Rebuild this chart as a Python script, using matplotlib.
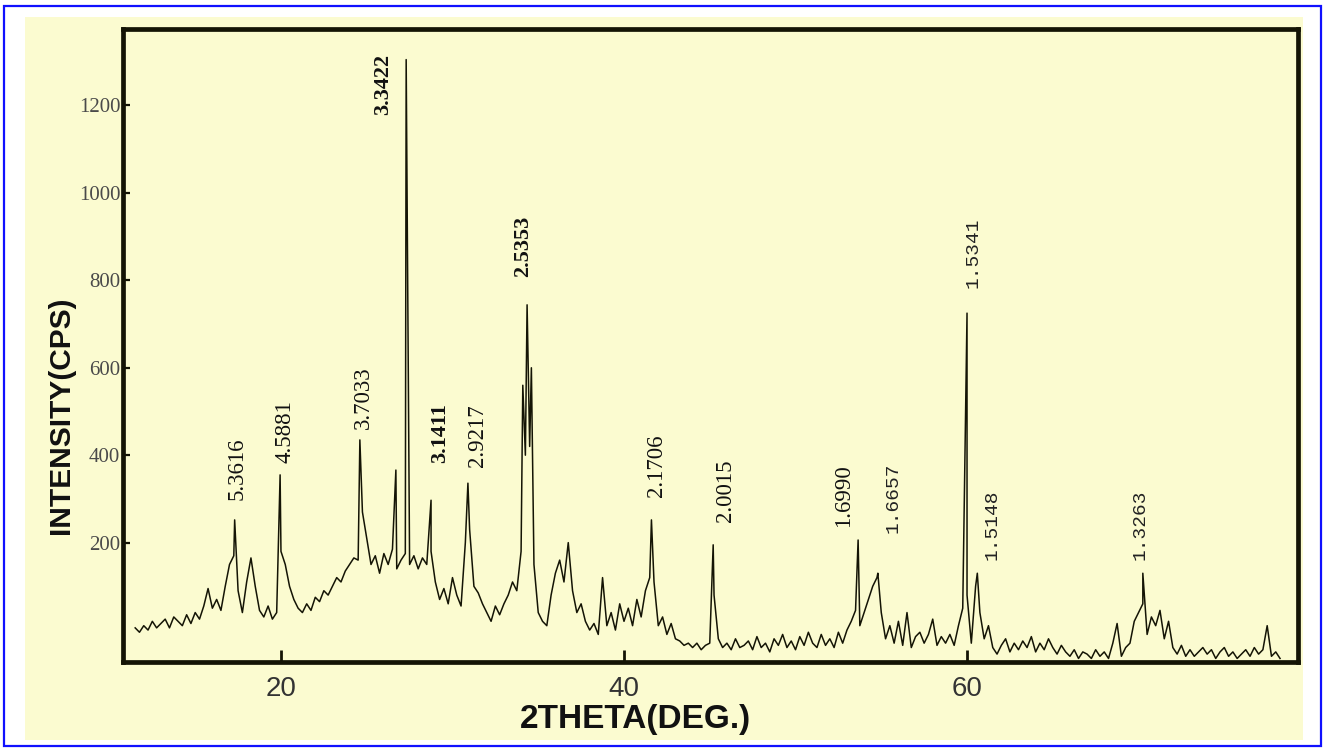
import numpy as np
import matplotlib
matplotlib.use("Agg")
import matplotlib.pyplot as plt
from matplotlib.patches import Rectangle

# background trace, 2theta grid 11.5 .. 78.25 step 0.25, counts read row by row (one row per degree)
bg_rows = [
    [5, -5],                 # 11
    [10, 0, 20, 5],          # 12
    [15, 25, 5, 30],         # 13
    [20, 10, 35, 15],        # 14
    [40, 25, 55, 95],        # 15
    [50, 70, 45, 100],       # 16
    [150, 170, 90, 40],      # 17
    [110, 165, 100, 45],     # 18
    [30, 55, 25, 40],        # 19
    [180, 150, 100, 70],     # 20
    [50, 40, 60, 45],        # 21
    [75, 65, 90, 80],        # 22
    [100, 120, 110, 135],    # 23
    [150, 165, 160, 270],    # 24
    [210, 150, 170, 130],    # 25
    [175, 150, 185, 140],    # 26
    [160, 175, 150, 170],    # 27
    [140, 165, 150, 180],    # 28
    [110, 70, 95, 60],       # 29
    [120, 80, 55, 200],      # 30
    [230, 100, 85, 60],      # 31
    [40, 20, 55, 35],        # 32
    [60, 80, 110, 90],       # 33
    [180, 400, 420, 150],    # 34
    [40, 20, 10, 80],        # 35
    [130, 160, 110, 200],    # 36
    [90, 40, 60, 20],        # 37
    [0, 15, -10, 120],       # 38
    [10, 40, 0, 60],         # 39
    [20, 50, 10, 70],        # 40
    [30, 90, 120, 110],      # 41
    [10, 30, -10, 15],       # 42
    [-20, -25, -35, -30],    # 43
    [-40, -30, -45, -35],    # 44
    [-30, 80, -20, -40],     # 45
    [-30, -45, -20, -40],    # 46
    [-35, -25, -45, -15],    # 47
    [-40, -30, -50, -20],    # 48
    [-35, -10, -40, -25],    # 49
    [-45, -15, -35, -5],     # 50
    [-30, -40, -10, -35],    # 51
    [-20, -40, -5, -30],     # 52
    [0, 20, 45, 10],         # 53
    [40, 70, 100, 120],      # 54
    [40, -20, 10, -30],      # 55
    [20, -35, 40, -40],      # 56
    [-15, -5, -30, -10],     # 57
    [25, -35, -15, -30],     # 58
    [-10, -35, 10, 50],      # 59
    [80, -30, 100, 40],      # 60
    [-20, 10, -40, -55],     # 61
    [-35, -20, -50, -30],    # 62
    [-45, -25, -40, -15],    # 63
    [-50, -30, -45, -20],    # 64
    [-40, -55, -35, -50],    # 65
    [-60, -45, -65, -50],    # 66
    [-55, -65, -45, -60],    # 67
    [-50, -65, -30, 15],     # 68
    [-60, -40, -30, 20],     # 69
    [40, 60, -10, 30],       # 70
    [10, 45, -20, 20],       # 71
    [-40, -55, -35, -60],    # 72
    [-45, -60, -50, -40],    # 73
    [-55, -45, -65, -50],    # 74
    [-40, -60, -50, -65],    # 75
    [-55, -45, -60, -40],    # 76
    [-55, -45, 10, -60],     # 77
    [-50, -65],              # 78
]
bg_cps = np.array([v for row in bg_rows for v in row], dtype=float)
bg_2theta = 11.5 + 0.25 * np.arange(len(bg_cps))

# sharp reflections
peak_2theta = [17.3, 19.95, 24.6, 26.7, 27.3, 28.75, 30.9, 34.1, 34.35, 34.6,
               41.6, 45.2, 53.65, 54.8, 60.0, 60.6, 70.25]
peak_cps = [252, 355, 435, 366, 1305, 297, 336, 560, 744, 600,
            252, 195, 206, 130, 725, 130, 130]

# d-spacing labels
d_labels = ['5.3616', '4.5881', '3.7033', '3.3422', '3.1411', '2.9217', '2.5353',
            '2.1706', '2.0015', '1.6990', '1.6657', '1.5341', '1.5148', '1.3263']
label_2theta = [17.43, 20.23, 24.78, 25.95, 29.27, 31.43, 34.11,
                41.92, 45.89, 52.8, 55.69, 60.35, 61.46, 70.09]
label_cps = [297, 382, 460, 1178, 382, 373, 808, 304, 247, 236, 222, 783, 160, 160]
label_kind = ['serif', 'serif', 'serif', 'bold', 'bold', 'serif', 'bold',
              'serif', 'serif', 'serif', 'mono', 'mono', 'mono', 'mono']

yticks = [200, 400, 600, 800, 1000, 1200]
xticks = [20, 40, 60]

paper = '#fbfbd0'
ink = '#141405'

x_all = np.concatenate([bg_2theta, peak_2theta])
y_all = np.concatenate([bg_cps, peak_cps])
order = np.argsort(x_all)

fig = plt.figure(figsize=(13.24, 7.49), dpi=100, facecolor='white')
fig.patches.append(Rectangle((0.0189, 0.012), 0.9653, 0.9653, transform=fig.transFigure,
                             facecolor=paper, edgecolor='none', zorder=-10))
fig.patches.append(Rectangle((0.003, 0.004), 0.9947, 0.988, transform=fig.transFigure,
                             fill=False, edgecolor='#1010ff', linewidth=1.6, zorder=-9))

ax = fig.add_axes([0.0929, 0.1162, 0.8875, 0.8451])
ax.set_facecolor(paper)
ax.plot(x_all[order], y_all[order], color=ink, linewidth=1.1)

ax.set_xlim(10.79, 79.3)
ax.set_ylim(-73, 1375)
ax.set_xticks(xticks)
ax.set_yticks(yticks)
ax.tick_params(axis='x', direction='in', length=8.5, width=2, color=ink, pad=10,
               labelsize=20, labelcolor='#333333')
ax.tick_params(axis='y', direction='in', length=5, width=1.6, color=ink, pad=2,
               labelsize=15, labelcolor='#4a4a4a')
for lab in ax.get_xticklabels():
    lab.set_family('Liberation Sans')
for lab in ax.get_yticklabels():
    lab.set_family('Liberation Serif')
for sp in ax.spines.values():
    sp.set_linewidth(3.4)
    sp.set_color(ink)

ax.set_xlabel('2THETA(DEG.)', fontsize=24, fontweight='bold', family='Liberation Sans', color='#111111')
ax.xaxis.set_label_coords(0.436, -0.066)
ax.set_ylabel('INTENSITY(CPS)', fontsize=21.5, fontweight='bold', family='Liberation Sans', color='#111111')
ax.yaxis.set_label_coords(-0.041, 0.39)

for s, x, y, kind in zip(d_labels, label_2theta, label_cps, label_kind):
    if kind == 'mono':
        ax.text(x, y, s, rotation=90, ha='center', va='bottom', fontsize=14,
                family='Liberation Mono', color='#222222')
    elif kind == 'bold':
        ax.text(x, y, s, rotation=90, ha='center', va='bottom', fontsize=16,
                family='Liberation Serif', fontweight='bold', color='#111111')
    else:
        ax.text(x, y, s, rotation=90, ha='center', va='bottom', fontsize=16.5,
                family='Liberation Serif', color='#111111')

fig.savefig('out.png', dpi=100, facecolor='white')
